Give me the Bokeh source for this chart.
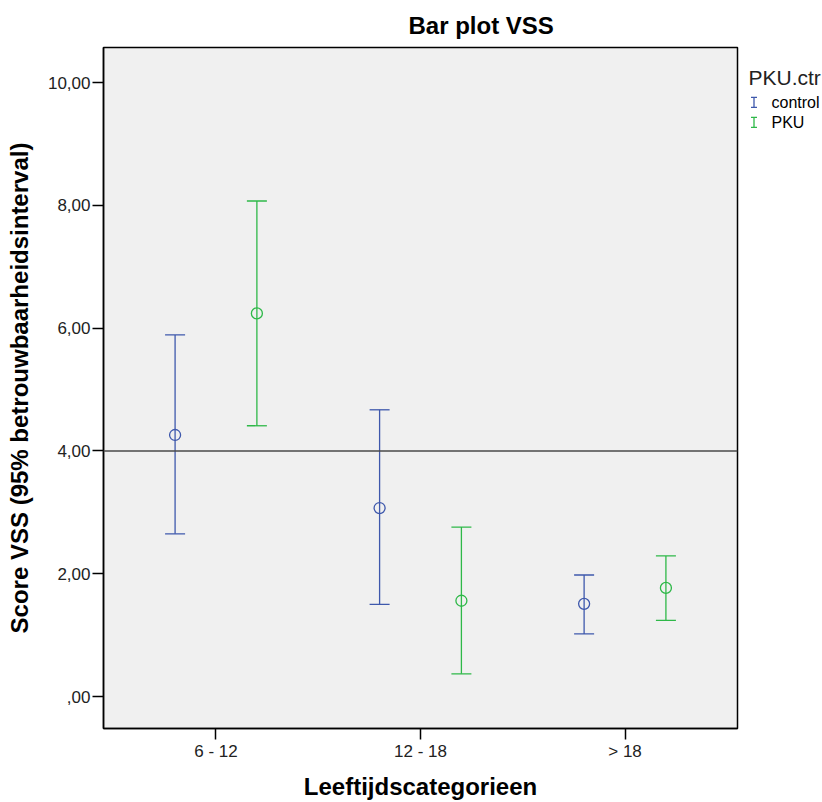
from bokeh.plotting import figure
from bokeh.models import ColumnDataSource, Whisker, Span, FixedTicker, Range1d
from bokeh.layouts import row
from bokeh.core.properties import value
from bokeh.embed import file_html
from bokeh.resources import INLINE

categories = ["6 - 12", "12 - 18", "> 18"]
groups = ["control", "PKU"]
colors = ["#3e58ac", "#2eb848"]

control_mean = [4.26, 3.07, 1.51]
control_lower = [2.65, 1.50, 1.02]
control_upper = [5.89, 4.67, 1.98]

pku_mean = [6.24, 1.56, 1.77]
pku_lower = [4.41, 0.37, 1.24]
pku_upper = [8.07, 2.76, 2.29]

y_ticks = [0, 2, 4, 6, 8, 10]
y_tick_labels = [",00", "2,00", "4,00", "6,00", "8,00", "10,00"]
reference_value = 4.0

FONT = "Liberation Sans"

p = figure(width=745, height=802, output_backend="svg", toolbar_location=None,
           x_range=Range1d(-0.55, 2.55), y_range=Range1d(-0.52, 10.57),
           title="Bar plot VSS",
           min_border_left=103, min_border_right=8, min_border_top=47, min_border_bottom=73)

p.background_fill_color = "#f0f0f0"
p.border_fill_color = "white"
p.outline_line_color = "#000000"
p.outline_line_width = 1.5
p.grid.visible = False

p.title.align = "left"
p.title.offset = 305
p.title.standoff = 18
p.title.text_font = FONT
p.title.text_font_size = "24px"
p.title.text_font_style = "bold"
p.title.text_color = "#000000"

offsets = [-0.2, 0.2]
series = [(control_mean, control_lower, control_upper), (pku_mean, pku_lower, pku_upper)]

for (m, lo, up), off, col in zip(series, offsets, colors):
    xs = [i + off for i in range(len(categories))]
    src = ColumnDataSource(dict(x=xs, mean=m, lower=lo, upper=up))
    w = Whisker(source=src, base="x", lower="lower", upper="upper", dimension="height",
                line_color=col, line_width=1.3)
    for h in (w.upper_head, w.lower_head):
        h.size = 20
        h.line_color = col
        h.line_width = 1.3
    p.add_layout(w)
    p.scatter("x", "mean", source=src, marker="circle", size=11, fill_color=None,
              line_color=col, line_width=1.3)

p.add_layout(Span(location=reference_value, dimension="width", line_color="#4a4a4a", line_width=1.5))

p.yaxis.ticker = FixedTicker(ticks=y_ticks)
p.yaxis.major_label_overrides = {t: l for t, l in zip(y_ticks, y_tick_labels)}
p.xaxis.ticker = FixedTicker(ticks=list(range(len(categories))))
p.xaxis.major_label_overrides = {i: c for i, c in enumerate(categories)}

for ax in (p.xaxis, p.yaxis):
    ax.minor_tick_line_color = None
    ax.major_tick_in = 0
    ax.major_tick_out = 11
    ax.major_tick_line_color = "#000000"
    ax.major_tick_line_width = 1.5
    ax.axis_line_color = "#000000"
    ax.axis_line_width = 1.5
    ax.major_label_text_font = FONT
    ax.major_label_text_font_size = "17px"
    ax.major_label_text_color = "#222222"
    ax.axis_label_text_font = FONT
    ax.axis_label_text_font_size = "24px"
    ax.axis_label_text_font_style = "bold"
    ax.axis_label_text_color = "#000000"

p.yaxis.major_label_standoff = 2
p.xaxis.major_label_standoff = 2
p.xaxis.axis_label = "Leeftijdscategorieen"
p.yaxis.axis_label = "Score VSS (95% betrouwbaarheidsinterval)"
p.xaxis.axis_label_standoff = 9
p.yaxis.axis_label_standoff = 12

# legend panel to the right of the chart (its frame is aligned with the main frame,
# so the ranges below are simply page pixel positions)
leg = figure(width=77, height=802, output_backend="svg", toolbar_location=None,
             x_range=Range1d(745, 822), y_range=Range1d(729, 47),
             x_axis_type=None, y_axis_type=None,
             min_border_left=0, min_border_right=0, min_border_top=47, min_border_bottom=73)
leg.outline_line_color = None
leg.grid.visible = False
leg.background_fill_color = "white"
leg.border_fill_color = "white"

leg.text(x=[748], y=[77], text=["PKU.ctr"], text_font=value(FONT), text_font_size="21px",
         text_color="#222222", text_baseline="alphabetic", text_align="left")
item_y = [102, 122]
icon_x = 753.5
leg.segment(x0=[icon_x] * 2, y0=[y - 5 for y in item_y], x1=[icon_x] * 2, y1=[y + 5 for y in item_y],
            line_color=colors, line_width=1.3)
leg.segment(x0=[icon_x - 3] * 4, x1=[icon_x + 3] * 4,
            y0=[item_y[0] - 5, item_y[0] + 5, item_y[1] - 5, item_y[1] + 5],
            y1=[item_y[0] - 5, item_y[0] + 5, item_y[1] - 5, item_y[1] + 5],
            line_color=[colors[0], colors[0], colors[1], colors[1]], line_width=1.3)
leg.text(x=[771] * 2, y=item_y, text=groups, text_font=value(FONT), text_font_size="16px",
         text_color="#000000", text_baseline="middle", text_align="left")

open("out.html", "w").write(file_html(row(p, leg), INLINE))
